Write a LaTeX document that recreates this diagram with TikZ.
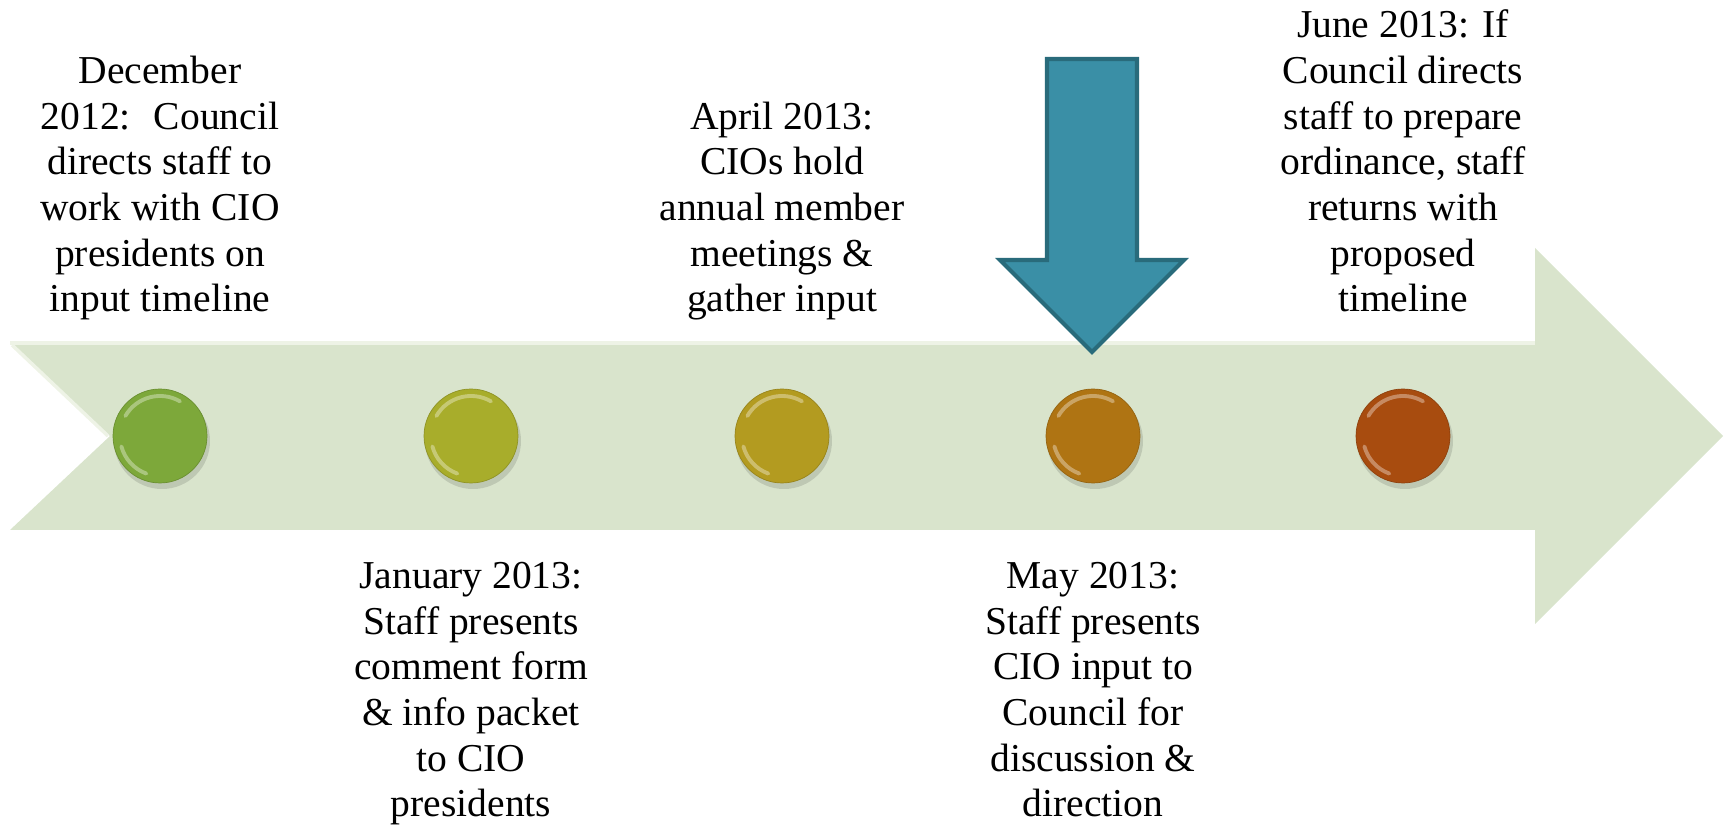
\documentclass[tikz,border=0pt]{standalone}
\usepackage{fontspec}
\setmainfont{LiberationSerif}[Extension=.ttf,UprightFont=*-Regular]
\usepackage{tikz}
\usetikzlibrary{calc}
\definecolor{cBand}{HTML}{D9E4CC}
\definecolor{cBandHi}{HTML}{EEF3E6}
\definecolor{cPin}{HTML}{3A8FA6}
\definecolor{cPinEdge}{HTML}{296B7B}
\definecolor{cDec}{HTML}{7DA83A}
\definecolor{cJan}{HTML}{A8AD2B}
\definecolor{cApr}{HTML}{B39B20}
\definecolor{cMay}{HTML}{AF7413}
\definecolor{cJun}{HTML}{A84C0F}

\begin{document}
\begin{tikzpicture}[
  x=0.02cm,y=0.02cm,
  txt/.style={align=center,inner sep=0pt,font=\fontsize{22.5}{26}\selectfont},
  up/.style={txt,anchor=south},
  down/.style={txt,anchor=north},
  dot/.style={circle,minimum size=1.88cm,inner sep=0pt,draw=#1!85!black,line width=0.4pt,fill=#1},
  shade/.style={fill=black,opacity=0.12},
  gloss/.style={white,opacity=0.35,line width=2.2pt,line cap=round}
]
\useasboundingbox (0,0) rectangle (1727,828);

% timeline band
\fill[cBand] (10,485) -- (1535,485) -- (1535,580) -- (1723,392) -- (1535,204)
  -- (1535,298) -- (10,298) -- (110,392) -- cycle;
\draw[cBandHi,line width=2pt] (10,485) -- (1535,485);
\draw[cBandHi,line width=2pt] (12,483) -- (108,392);

% months
\fill[shade] (162,387) circle (48);
\fill[shade] (473,387) circle (48);
\fill[shade] (784,387) circle (48);
\fill[shade] (1095,387) circle (48);
\fill[shade] (1405,387) circle (48);
\node[dot=cDec] (dec) at (160,392) {};
\node[dot=cJan] (jan) at (471,392) {};
\node[dot=cApr] (apr) at (782,392) {};
\node[dot=cMay] (may) at (1093,392) {};
\node[dot=cJun] (jun) at (1403,392) {};
\draw[gloss] ($(dec.center)+(60:40)$) arc[start angle=60,end angle=150,radius=40];
\draw[gloss] ($(dec.center)+(195:40)$) arc[start angle=195,end angle=250,radius=40];
\draw[gloss] ($(jan.center)+(60:40)$) arc[start angle=60,end angle=150,radius=40];
\draw[gloss] ($(jan.center)+(195:40)$) arc[start angle=195,end angle=250,radius=40];
\draw[gloss] ($(apr.center)+(60:40)$) arc[start angle=60,end angle=150,radius=40];
\draw[gloss] ($(apr.center)+(195:40)$) arc[start angle=195,end angle=250,radius=40];
\draw[gloss] ($(may.center)+(60:40)$) arc[start angle=60,end angle=150,radius=40];
\draw[gloss] ($(may.center)+(195:40)$) arc[start angle=195,end angle=250,radius=40];
\draw[gloss] ($(jun.center)+(60:40)$) arc[start angle=60,end angle=150,radius=40];
\draw[gloss] ($(jun.center)+(195:40)$) arc[start angle=195,end angle=250,radius=40];

% current step marker
\coordinate (tip) at (1092,476);
\filldraw[fill=cPin,draw=cPinEdge,line width=2.3pt,line join=miter]
  (1047,769) -- (1137,769) -- (1137,568) -- (1184,568) -- (tip)
  -- (1000,568) -- (1047,568) -- cycle;

% labels
\node[up] (tDec) at (160,502)
  {December\\2012: \ Council\\directs staff to\\work with CIO\\presidents on\\input timeline\strut};
\node[down] (tJan) at (471,272)
  {\strut January 2013:\\Staff presents\\comment form\\\& info packet\\to CIO\\presidents};
\node[up] (tApr) at (782,502)
  {April 2013:\\CIOs hold\\annual member\\meetings \&\\gather input\strut};
\node[down] (tMay) at (1093,272)
  {\strut May 2013:\\Staff presents\\CIO input to\\Council for\\discussion \&\\direction};
\node[up] (tJun) at (1403,502)
  {June 2013: If\\Council directs\\staff to prepare\\ordinance, staff\\returns with\\proposed\\timeline\strut};
\end{tikzpicture}
\end{document}
